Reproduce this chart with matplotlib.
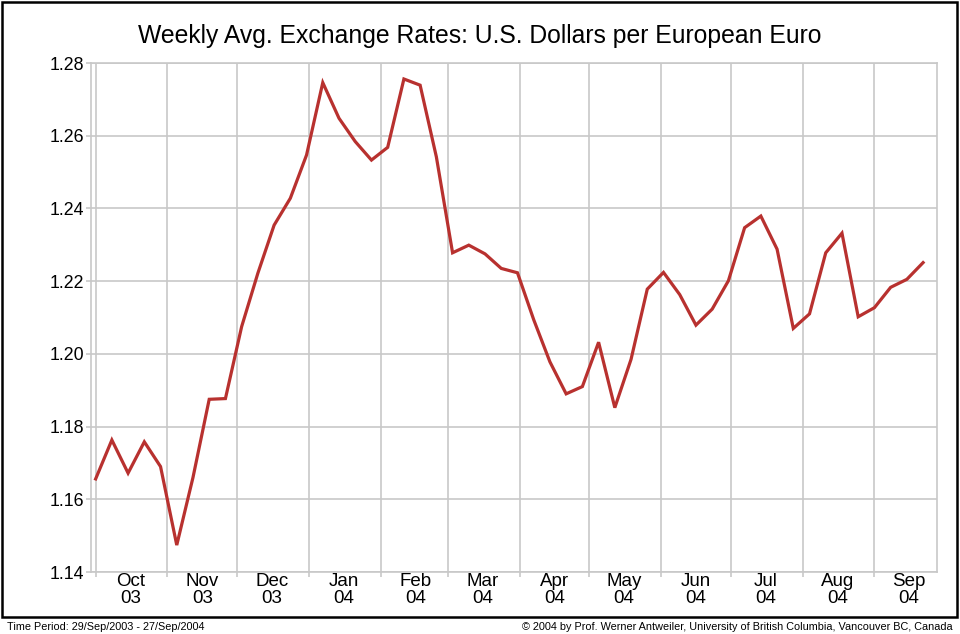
import datetime as dt
import matplotlib
matplotlib.use("Agg")
import matplotlib.pyplot as plt
from matplotlib.patches import Rectangle

plt.rcParams['font.family'] = ['Liberation Sans', 'DejaVu Sans']

# weekly averages, plotted at mid-week (Wednesday)
first_week = dt.date(2003, 10, 1)
rates = [1.1656, 1.1763, 1.1672, 1.1758, 1.1690, 1.1474, 1.1660, 1.1875,
         1.1877, 1.2075, 1.2222, 1.2354, 1.2428, 1.2547, 1.2746, 1.2648,
         1.2584, 1.2533, 1.2568, 1.2756, 1.2739, 1.2542, 1.2278, 1.2299,
         1.2275, 1.2235, 1.2223, 1.2094, 1.1978, 1.1890, 1.1910, 1.2032,
         1.1852, 1.1985, 1.2178, 1.2224, 1.2163, 1.2079, 1.2123, 1.2201,
         1.2347, 1.2379, 1.2288, 1.2070, 1.2110, 1.2278, 1.2332, 1.2102,
         1.2127, 1.2183, 1.2205, 1.2251]
weeks = [first_week + dt.timedelta(weeks=i) for i in range(len(rates))]

month_starts = [dt.date(2003, m, 1) for m in (10, 11, 12)] + \
               [dt.date(2004, m, 1) for m in range(1, 10)]
month_labels = ['Oct\n03', 'Nov\n03', 'Dec\n03', 'Jan\n04', 'Feb\n04', 'Mar\n04',
                'Apr\n04', 'May\n04', 'Jun\n04', 'Jul\n04', 'Aug\n04', 'Sep\n04']
y_ticks = [1.14, 1.16, 1.18, 1.20, 1.22, 1.24, 1.26, 1.28]

fig = plt.figure(figsize=(9.6, 6.34), dpi=100)
ax = fig.add_axes([91 / 960, 1 - 572 / 634, 846 / 960, 509 / 634])

ax.plot(weeks, rates, color='#b8312f', linewidth=2.3, solid_joinstyle='miter')

grid_col = '#c8c8c8'
ax.set_xlim(dt.date(2003, 9, 29), dt.date(2004, 9, 28))
ax.set_ylim(1.14, 1.28)
ax.set_yticks(y_ticks)
ax.set_yticklabels([f'{v:.2f}' for v in y_ticks], fontsize=12.8)

ax.set_xticks(month_starts)
ax.set_xticklabels([])
ax.set_xticks([m.replace(day=16) for m in month_starts], minor=True)
ax.set_xticklabels(month_labels, minor=True, fontsize=13.5, linespacing=0.95)

ax.tick_params(axis='both', which='major', length=3.5, width=1.2, color=grid_col, pad=1.5)
ax.tick_params(axis='x', which='minor', length=0, pad=1)
ax.grid(True, which='major', color=grid_col, linewidth=1.2)
ax.set_axisbelow(True)
for s in ax.spines.values():
    s.set_color(grid_col)
    s.set_linewidth(1.2)

fig.text(0.5, 1 - 36 / 634, 'Weekly Avg. Exchange Rates: U.S. Dollars per European Euro',
         ha='center', va='center', fontsize=17.8)

# outer frame
fig.patches.append(Rectangle((2 / 960, 1 - 617 / 634), 955 / 960, 615 / 634,
                             transform=fig.transFigure, fill=False,
                             edgecolor='black', linewidth=1.8))

fig.text(7 / 960, 1 - 627 / 634, 'Time Period: 29/Sep/2003 - 27/Sep/2004',
         ha='left', va='center', fontsize=7.8)
fig.text(953 / 960, 1 - 627 / 634,
         '\u00a9 2004 by Prof. Werner Antweiler, University of British Columbia, Vancouver BC, Canada',
         ha='right', va='center', fontsize=7.8)

fig.savefig('out.png', dpi=100)
